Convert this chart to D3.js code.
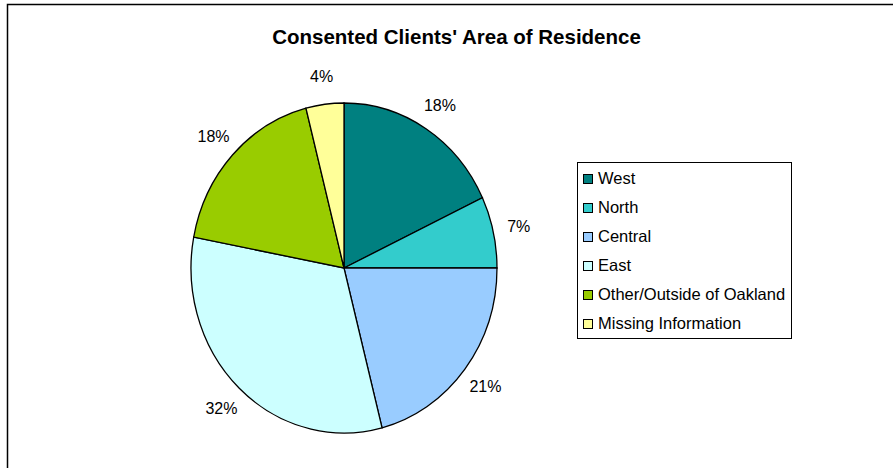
<!DOCTYPE html>
<html>
<head>
<meta charset="utf-8">
<script src="https://cdn.jsdelivr.net/npm/d3@7"></script>
<style>
  html, body { margin: 0; padding: 0; background: #fff; }
  svg { display: block; font-family: "Liberation Sans", Arial, sans-serif; }
</style>
</head>
<body>
<svg id="chart" width="893" height="468"></svg>
<script>
// Area of residence for consented clients (percent of total)
const categories = ["West", "North", "Central", "East", "Other/Outside of Oakland", "Missing Information"];
const percents = [18, 7, 21, 32, 18, 4];
const colors = ["#008080", "#33CCCC", "#99CCFF", "#CCFFFF", "#99CC00", "#FFFF99"];
const title = "Consented Clients' Area of Residence";

const svg = d3.select("#chart");
const W = 893, H = 468;

// outer chart frame (runs off the right and bottom edges)
svg.append("rect")
  .attr("x", 7.5).attr("y", 4.5)
  .attr("width", W + 20).attr("height", H + 20)
  .attr("fill", "#fff").attr("stroke", "#000").attr("stroke-width", 1.5);

svg.append("text")
  .attr("x", 456.5).attr("y", 44)
  .attr("text-anchor", "middle")
  .attr("font-size", 20.5).attr("font-weight", "bold")
  .attr("fill", "#000")
  .text(title);

// pie: slightly taller than wide
const cx = 344, cy = 268, rx = 153, ry = 165;
const sy = ry / rx;

const pie = d3.pie().sort(null).value(d => d)
  .startAngle(0).endAngle(2 * Math.PI);
const arcs = pie(percents);
const arc = d3.arc().innerRadius(0).outerRadius(rx);

const g = svg.append("g").attr("transform", `translate(${cx},${cy}) scale(1,${sy})`);
g.selectAll("path")
  .data(arcs)
  .join("path")
  .attr("d", arc)
  .attr("fill", (d, i) => colors[i])
  .attr("stroke", "#000")
  .attr("stroke-width", 1.3)
  .attr("vector-effect", "non-scaling-stroke");

// percentage labels outside each slice
const labelK = 1.17;
svg.append("g").selectAll("text")
  .data(arcs)
  .join("text")
  .attr("x", d => cx + Math.sin((d.startAngle + d.endAngle) / 2) * rx * labelK)
  .attr("y", d => cy - Math.cos((d.startAngle + d.endAngle) / 2) * ry * labelK)
  .attr("dy", "0.36em")
  .attr("text-anchor", "middle")
  .attr("font-size", 16)
  .attr("fill", "#000")
  .text(d => d.data + "%");

// legend
const lg = svg.append("g");
const lx = 577, ly = 162, lw = 214, lh = 176;
lg.append("rect")
  .attr("x", lx + 0.5).attr("y", ly + 0.5)
  .attr("width", lw).attr("height", lh)
  .attr("fill", "#fff").attr("stroke", "#000").attr("stroke-width", 1);

const rowY = d3.scaleLinear().domain([0, 1]).range([179, 208]);
const items = lg.selectAll("g.item")
  .data(categories)
  .join("g")
  .attr("class", "item")
  .attr("transform", (d, i) => `translate(0,${rowY(i)})`);
items.append("rect")
  .attr("x", 583.5).attr("y", -4.5)
  .attr("width", 9).attr("height", 9)
  .attr("fill", (d, i) => colors[i])
  .attr("stroke", "#000").attr("stroke-width", 1);
items.append("text")
  .attr("x", 598).attr("y", 4.5)
  .attr("font-size", 16.5)
  .attr("fill", "#000")
  .text(d => d);
</script>
</body>
</html>
